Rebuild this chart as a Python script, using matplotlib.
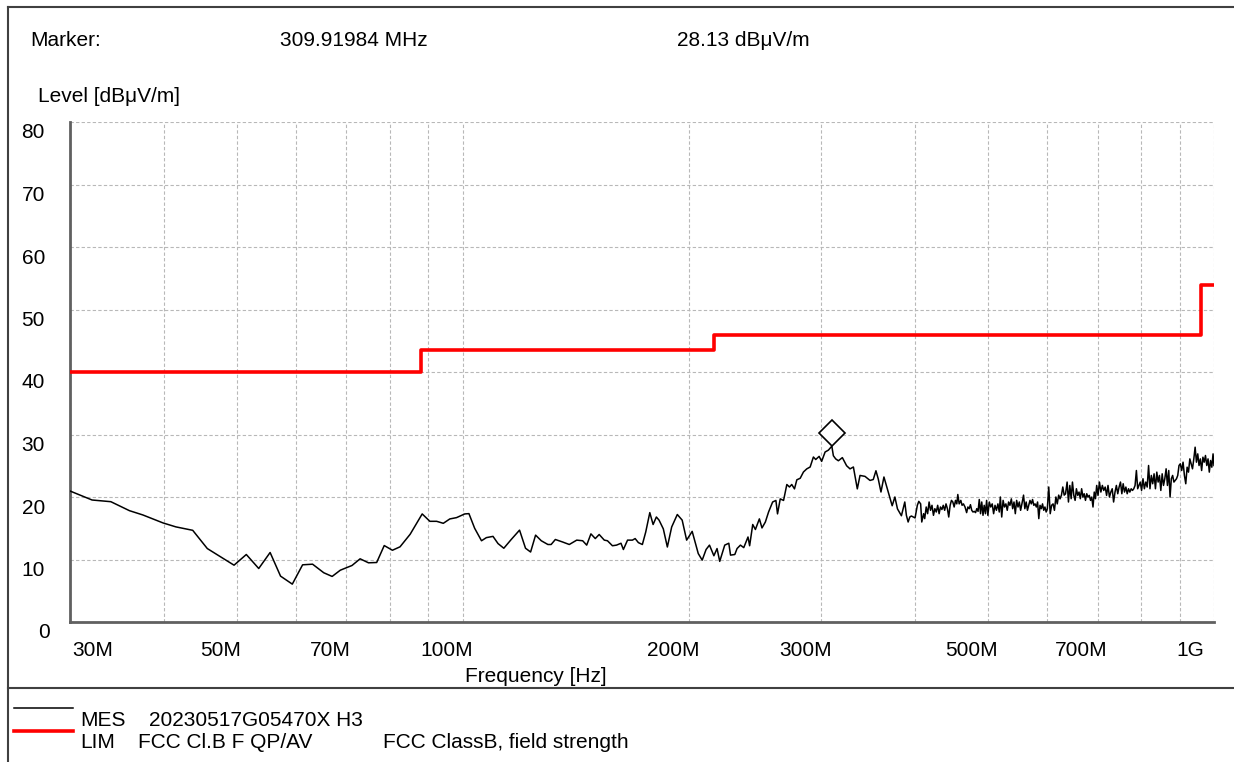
import matplotlib
matplotlib.use('Agg')
import matplotlib.pyplot as plt
import matplotlib.transforms as mtransforms
from matplotlib.lines import Line2D

plt.rcParams['font.family'] = ['Liberation Sans', 'DejaVu Sans']

# --- dados (frequencia em MHz, nivel em dBuV/m) ---
# trecho baixo 30-105 MHz
low_freq = [30.0, 32.1, 34.0, 36.0, 37.5, 39.9, 41.5, 43.7, 45.7, 49.6, 51.5, 53.5,
            55.4, 57.2, 59.3, 61.2, 63.1, 65.3, 67.0, 68.7, 71.2, 73.0, 74.9, 76.8,
            78.6, 80.6, 82.5, 85.1, 88.3, 90.4, 92.3, 94.2, 96.1, 98.1, 100.6, 101.9]
low_level = [20.96, 19.52, 19.25, 17.81, 17.13, 15.85, 15.22, 14.67, 11.75, 9.09, 10.8, 8.56,
             11.12, 7.34, 6.06, 9.15, 9.25, 7.88, 7.29, 8.29, 9.04, 10.11, 9.47, 9.52,
             12.23, 11.48, 12.03, 14.04, 17.29, 16.11, 16.11, 15.79, 16.49, 16.7, 17.29, 17.34]

# trecho medio 103-230 MHz
mid_freq = [103.7, 105.9, 107.5, 109.7, 111.4, 113.4, 116.0, 119.0, 121.2, 123.1, 125.0,
            127.2, 129.8, 131.1, 132.8, 135.8, 138.6, 141.8, 144.4, 146.2, 148.1, 150.1,
            151.9, 154.3, 155.8, 158.2, 160.2, 162.4, 163.6, 165.7, 168.2, 169.6, 171.3,
            173.4, 175.2, 177.4, 179.2, 181.0, 182.5, 184.9, 187.2, 189.7, 193.0, 195.9,
            198.6, 202.0, 205.8, 208.3, 210.8, 213.0, 215.9, 218.0, 219.8, 223.2, 226.0,
            227.2, 230.2]
mid_level = [15.0, 13.0, 13.5, 13.7, 12.55, 11.8, 13.2, 14.7, 11.8, 11.2, 13.9,
             13.0, 12.4, 12.4, 13.2, 12.8, 12.4, 13.1, 13.0, 12.3, 14.1, 13.35,
             14.0, 13.1, 13.0, 12.2, 12.3, 12.6, 11.6, 13.1, 13.1, 13.35, 12.7,
             12.4, 14.4, 17.5, 15.6, 16.8, 16.3, 14.9, 12.0, 15.2, 17.2, 16.3,
             13.1, 14.5, 10.95, 9.9, 11.6, 12.3, 10.6, 11.75, 9.7, 12.3, 12.6,
             10.7, 10.8]

# pico 230-390 MHz
peak_freq = [231.8, 234.2, 236.6, 239.7, 240.9, 243.2, 245.2, 248.2, 250.2, 252.8, 255.3,
             258.5, 261.1, 262.4, 264.6, 267.3, 270.0, 272.2, 274.1, 276.4, 278.4, 281.3,
             284.1, 287.0, 290.0, 292.9, 295.0, 298.1, 300.4, 303.6, 306.7, 309.92, 311.4,
             313.6, 316.2, 320.1, 324.3, 327.7, 331.1, 335.1, 337.9, 343.1, 348.4, 351.9,
             354.8, 357.3, 360.3, 363.6, 368.4, 372.9, 376.0, 379.0, 383.6, 387.6, 389.5,
             391.6, 393.6, 395.5, 400.0]
peak_level = [11.75, 12.3, 11.9, 13.6, 12.2, 15.6, 14.8, 16.5, 15.05, 16.0, 17.6,
              19.2, 19.45, 17.3, 19.7, 19.45, 22.0, 21.6, 22.0, 21.3, 22.75, 23.0,
              24.0, 24.5, 24.8, 26.4, 26.0, 26.5, 25.7, 27.2, 27.5, 28.13, 26.6,
              26.1, 25.8, 26.3, 25.0, 24.5, 24.8, 21.3, 23.45, 23.3, 22.65, 22.8,
              24.2, 22.9, 20.8, 23.2, 20.8, 18.6, 20.0, 18.1, 17.0, 19.2, 17.07,
              16.0, 16.8, 16.96, 16.65]

# trecho denso 400-1000 MHz
hi_freq = [402.8, 404.6, 406.9, 408.3, 410.6, 412.0, 413.9, 415.7, 417.6, 419.4, 421.3,
           423.2, 425.0, 426.9, 428.7, 430.6, 432.4, 434.3, 436.1, 438.0, 439.8, 441.7,
           443.5, 445.4, 447.2, 449.1, 450.9, 452.8, 454.6, 456.0, 457.9, 460.2, 462.0,
           463.9, 466.2, 468.5, 470.3, 472.2, 474.0, 475.9, 477.7, 479.6, 481.5, 483.3,
           485.2, 487.0, 488.9, 490.7, 492.6, 494.4, 496.3, 498.1, 500.0, 502.2, 504.4,
           506.7, 508.9, 511.1, 513.3, 515.6, 517.8, 519.5, 521.7, 523.9, 526.1, 528.4,
           530.6, 532.8, 535.0, 537.3, 539.5, 541.7, 543.9, 546.1, 548.4, 550.6, 552.8,
           555.0, 557.8, 560.0, 562.3, 564.5, 566.7, 568.9, 571.2, 573.4, 575.6, 577.8,
           580.1, 582.3, 584.5, 586.7, 589.0, 591.2, 593.4, 595.6, 597.8, 600.0, 602.6,
           605.3, 607.9, 610.6, 613.2, 615.9, 618.5, 621.2, 623.8, 626.5, 629.1, 631.8,
           634.4, 637.5, 640.1, 642.8, 645.4, 648.0, 650.7, 653.3, 655.9, 658.6, 661.2,
           663.8, 666.5, 669.1, 671.7, 674.4, 677.0, 679.6, 682.3, 684.9, 687.5, 690.1,
           692.8, 695.4, 698.0, 700.8, 703.9, 707.0, 710.2, 713.3, 716.4, 719.5, 722.6,
           725.8, 728.9, 732.0, 735.1, 738.3, 741.4, 744.5, 747.6, 750.8, 753.9, 757.0,
           760.1, 763.3, 766.4, 769.5, 772.6, 775.8, 778.9, 782.0, 785.1, 788.3, 791.4,
           794.5, 797.7, 800.9, 804.4, 807.8, 811.3, 814.8, 818.3, 821.8, 825.2, 828.7,
           832.2, 835.7, 839.2, 842.6, 846.1, 849.6, 853.1, 856.6, 860.0, 863.5, 867.0,
           870.5, 874.0, 877.4, 880.9, 884.4, 887.9, 891.4, 894.8, 898.3, 901.9, 905.7,
           909.5, 913.3, 917.1, 920.9, 924.8, 928.6, 932.4, 936.2, 940.0, 943.8, 947.6,
           951.4, 955.2, 959.0, 962.8, 966.6, 970.4, 974.2, 978.1, 981.9, 985.7, 989.5,
           993.3, 997.1, 1000.0]
hi_level = [18.67, 19.3, 18.9, 16.0, 17.33, 16.54, 18.4, 17.33, 19.2, 17.87, 18.67,
            17.07, 18.13, 17.6, 18.67, 17.33, 18.4, 18.0, 18.67, 17.87, 18.9, 18.13,
            16.8, 18.67, 19.46, 19.2, 18.4, 19.46, 18.9, 20.4, 18.9, 19.46, 18.67,
            18.9, 18.4, 17.5, 18.4, 18.13, 18.77, 17.87, 17.6, 17.7, 17.5, 18.13,
            17.7, 19.6, 17.33, 19.2, 17.07, 18.67, 17.33, 19.46, 17.07, 19.2, 18.4,
            18.9, 17.33, 18.67, 17.87, 18.9, 17.6, 20.0, 16.8, 19.46, 18.4, 18.9,
            17.87, 19.2, 18.67, 19.7, 18.13, 19.2, 17.33, 19.46, 18.4, 19.2, 17.87,
            18.9, 20.3, 18.13, 19.2, 17.87, 18.67, 19.46, 18.9, 19.6, 18.67, 18.9,
            18.4, 19.2, 16.54, 18.67, 18.13, 18.9, 17.87, 18.4, 17.6, 18.13, 21.6,
            17.33, 18.67, 18.9, 17.87, 20.0, 18.9, 20.3, 19.7, 20.3, 21.6, 20.3,
            20.5, 22.39, 19.2, 21.85, 19.73, 22.39, 20.26, 19.46, 21.32, 20.26, 20.79,
            19.73, 21.32, 19.99, 20.52, 19.46, 20.52, 19.99, 20.26, 19.46, 19.99, 18.4,
            20.79, 19.73, 21.85, 20.26, 22.39, 20.79, 21.85, 21.05, 21.59, 20.26, 21.85,
            19.99, 20.79, 21.32, 19.2, 20.79, 21.85, 20.52, 21.59, 22.39, 20.52, 22.12,
            20.79, 21.59, 20.52, 21.32, 20.79, 21.32, 21.05, 21.32, 21.85, 24.24, 21.32,
            21.85, 22.39, 21.05, 22.92, 21.32, 22.39, 21.59, 25.04, 21.32, 23.45, 22.12,
            23.71, 21.32, 23.98, 22.39, 23.45, 21.05, 23.71, 21.85, 22.92, 24.51, 21.85,
            24.24, 19.99, 22.92, 23.45, 22.39, 22.65, 22.92, 23.45, 25.04, 25.31, 24.24,
            25.57, 23.45, 22.12, 24.77, 23.98, 26.1, 25.31, 24.51, 26.1, 27.97, 25.57,
            26.9, 25.04, 26.1, 24.24, 26.37, 25.57, 26.64, 25.04, 26.1, 23.98, 25.84,
            24.77, 26.9, 25.04]

mes_freq = low_freq + mid_freq + peak_freq + hi_freq
mes_level = low_level + mid_level + peak_level + hi_level

# limite FCC classe B (campo)
lim_freq = [30, 88, 216, 960, 1000]
lim_level = [40, 43.5, 46, 54, 54]

marker_freq = 309.91984
marker_level = 28.13

x_grid = [30, 40, 50, 60, 70, 80, 90, 100, 200, 300, 400, 500, 600, 700, 800, 900, 1000]
x_labels = {30: '30M', 50: '50M', 70: '70M', 100: '100M', 200: '200M',
            300: '300M', 500: '500M', 700: '700M', 1000: '1G'}
y_ticks = [0, 10, 20, 30, 40, 50, 60, 70, 80]

# --- figura ---
W, H = 1234, 762
def fx(px):
    return px / W
def fy(py):
    return 1 - py / H

fig = plt.figure(figsize=(W / 100, H / 100), dpi=100)
ax = fig.add_axes([fx(70), fy(622), fx(1214) - fx(70), fy(122) - fy(622)])

def shifted(trans, dx, dy):
    return trans + mtransforms.ScaledTranslation(dx / 100, -dy / 100, fig.dpi_scale_trans)

ax.set_xscale('log')
ax.set_xlim(30, 1000)
ax.set_ylim(0, 80)
ax.set_xticks(x_grid)
ax.set_yticks(y_ticks)
ax.minorticks_off()
ax.tick_params(length=0, labelbottom=False, labelleft=False)
ax.grid(True, color='#b8b8b8', linestyle=(0, (3, 2)), linewidth=0.8)
ax.set_axisbelow(True)
for s in ['top', 'right']:
    ax.spines[s].set_visible(False)
for s in ['left', 'bottom']:
    ax.spines[s].set_color('#606060')
    ax.spines[s].set_linewidth(2)

ax.plot(lim_freq, lim_level, drawstyle='steps-post', color='#ff0000', lw=2.6, zorder=3)
ax.plot(mes_freq, mes_level, color='black', lw=1.1, zorder=4)

# marcador (losango acima do pico)
diamond_tr = mtransforms.offset_copy(ax.transData, fig=fig, x=0, y=13.5, units='dots')
ax.plot([marker_freq], [marker_level], marker='D', markersize=13.5, markerfacecolor='white',
        markeredgecolor='black', markeredgewidth=1.2, transform=diamond_tr, zorder=5)

# rotulos dos eixos
for f, lab in x_labels.items():
    if f == 30:
        ax.text(f, 0, lab, ha='left', va='center', fontsize=15,
                transform=shifted(ax.get_xaxis_transform(), 2, 29))
    elif f == 1000:
        ax.text(f, 0, lab, ha='center', va='center', fontsize=15,
                transform=shifted(ax.get_xaxis_transform(), -24, 29))
    else:
        ax.text(f, 0, lab, ha='center', va='center', fontsize=15,
                transform=shifted(ax.get_xaxis_transform(), -16, 29))
for v in y_ticks:
    dx = -20 if v == 0 else -25
    ax.text(0, v, str(v), ha='right', va='center', fontsize=15,
            transform=shifted(ax.get_yaxis_transform(), dx, 11))

fig.text(fx(536), fy(677), 'Frequency [Hz]', ha='center', va='center', fontsize=15)
fig.text(fx(38), fy(97), 'Level [dBμV/m]', ha='left', va='center', fontsize=15)

# cabecalho
fig.text(fx(30), fy(40), 'Marker:', ha='left', va='center', fontsize=15)
fig.text(fx(280), fy(40), f'{marker_freq:.5f} MHz', ha='left', va='center', fontsize=15)
fig.text(fx(677), fy(40), f'{marker_level:.2f} dBμV/m', ha='left', va='center', fontsize=15)

# moldura
frame_kw = dict(color='#404040', lw=1.5, transform=fig.transFigure)
fig.add_artist(Line2D([fx(8), 1], [fy(7), fy(7)], **frame_kw))
fig.add_artist(Line2D([fx(8), fx(8)], [fy(7), 0], **frame_kw))
fig.add_artist(Line2D([fx(8), 1], [fy(688), fy(688)], **frame_kw))

# legenda
fig.add_artist(Line2D([fx(14), fx(73)], [fy(708), fy(708)], color='black', lw=1.1,
                      transform=fig.transFigure))
fig.add_artist(Line2D([fx(14), fx(73)], [fy(731), fy(731)], color='#ff0000', lw=2.6,
                      transform=fig.transFigure))
fig.text(fx(80), fy(720), 'MES', ha='left', va='center', fontsize=15)
fig.text(fx(149), fy(720), '20230517G05470X H3', ha='left', va='center', fontsize=15)
fig.text(fx(80), fy(742), 'LIM', ha='left', va='center', fontsize=15)
fig.text(fx(138), fy(742), 'FCC Cl.B F QP/AV', ha='left', va='center', fontsize=15)
fig.text(fx(383), fy(742), 'FCC ClassB, field strength', ha='left', va='center', fontsize=15)

fig.savefig('out.png', dpi=100)
